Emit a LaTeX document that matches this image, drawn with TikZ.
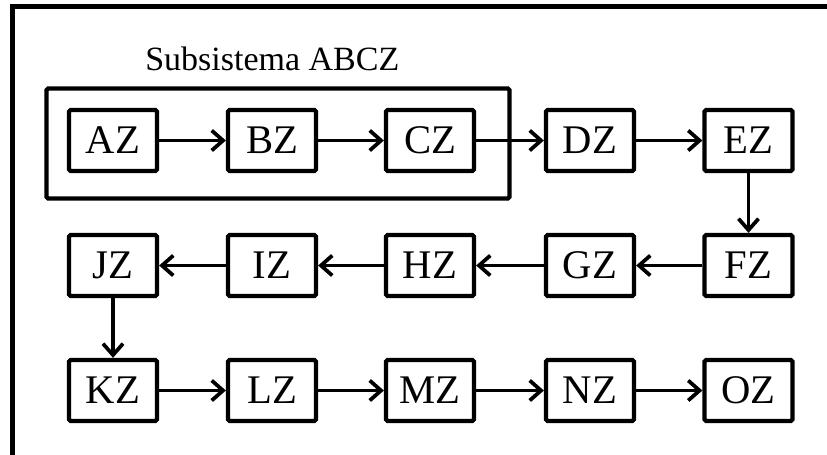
\documentclass[tikz,border=0pt]{standalone}
\usepackage{fontspec}
\setmainfont{Liberation Serif}
\usetikzlibrary{arrows.meta}
\begin{document}
\begin{tikzpicture}[x=0.75pt,y=-0.75pt,
  blk/.style={draw=black, line width=3.2pt, rounded corners=1.2pt, fill=white,
    minimum width=66pt, minimum height=45.8pt, inner sep=0pt,
    font=\fontsize{30.5}{36}\selectfont},
  flow/.style={line width=2.8pt, -{Straight Barb[length=8.5pt,width=15pt,line width=2.8pt]}},
  frame/.style={draw=black, line width=3.2pt},
  group/.style={draw=black, line width=3.2pt, rounded corners=1.2pt}]
\useasboundingbox (0,0) rectangle (827,454);
\clip (0,0) rectangle (827,454);
% outer frame (only its left and top sides fall inside the page)
\draw[frame] (12.5,6.5) rectangle (850,480);
% subsystem enclosure and its caption
\draw[group] (46.5,88.5) rectangle (509.5,198.5);
\node[anchor=base west, inner sep=0pt, font=\fontsize{25.5}{30}\selectfont] (cap) at (145,70) {Subsistema ABCZ};
% row 1
\node[blk] (AZ) at (113,140.5) {AZ};
\node[blk] (BZ) at (272,140.5) {BZ};
\node[blk] (CZ) at (430,140.5) {CZ};
\node[blk] (DZ) at (590,140.5) {DZ};
\node[blk] (EZ) at (748.5,140.5) {EZ};
% row 2
\node[blk] (JZ) at (113,265.5) {JZ};
\node[blk] (IZ) at (272,265.5) {IZ};
\node[blk] (HZ) at (430,265.5) {HZ};
\node[blk] (GZ) at (590,265.5) {GZ};
\node[blk] (FZ) at (748.5,265.5) {FZ};
% row 3
\node[blk] (KZ) at (113,390.5) {KZ};
\node[blk] (LZ) at (272,390.5) {LZ};
\node[blk] (MZ) at (430,390.5) {MZ};
\node[blk] (NZ) at (590,390.5) {NZ};
\node[blk] (OZ) at (748.5,390.5) {OZ};
% connectors
\draw[flow] (AZ.east) -- (BZ.west);
\draw[flow] (BZ.east) -- (CZ.west);
\draw[flow] (CZ.east) -- (DZ.west);
\draw[flow] (DZ.east) -- (EZ.west);
\draw[flow] (EZ.south) -- (FZ.north);
\draw[flow] (FZ.west) -- (GZ.east);
\draw[flow] (GZ.west) -- (HZ.east);
\draw[flow] (HZ.west) -- (IZ.east);
\draw[flow] (IZ.west) -- (JZ.east);
\draw[flow] (JZ.south) -- (KZ.north);
\draw[flow] (KZ.east) -- (LZ.west);
\draw[flow] (LZ.east) -- (MZ.west);
\draw[flow] (MZ.east) -- (NZ.west);
\draw[flow] (NZ.east) -- (OZ.west);
\end{tikzpicture}
\end{document}
